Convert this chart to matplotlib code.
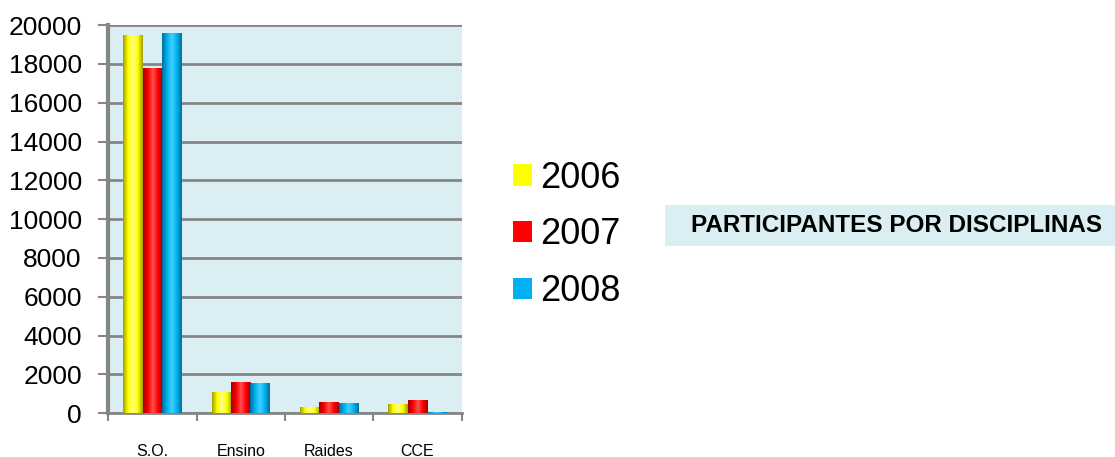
import numpy as np
import matplotlib.pyplot as plt
from matplotlib.patches import Rectangle
from matplotlib.colors import LinearSegmentedColormap

plt.rcParams['font.family'] = ['Liberation Sans', 'DejaVu Sans']

# Data
categories = ['S.O.', 'Ensino', 'Raides', 'CCE']
years = ['2006', '2007', '2008']
v2006 = [19500, 1100, 300, 450]
v2007 = [17800, 1600, 570, 670]
v2008 = [19600, 1550, 520, 60]
colors = ['#FFFF00', '#FF0000', '#00B0F0']
darks = ['#A0A000', '#A00000', '#00709A']
lights = ['#FFFF80', '#FF5050', '#40D0FF']

fig = plt.figure(figsize=(11.15, 4.57), dpi=100)
ax = fig.add_axes([0.097, 0.096, 0.317, 0.849])
ax.set_facecolor('#DAEEF3')

x = np.arange(len(categories)) + 0.5
w = 0.22
series = [v2006, v2007, v2008]
grad = np.linspace(0, 1, 64).reshape(1, -1)
for i, vals in enumerate(series):
    bars = ax.bar(x + (i - 1) * w, vals, w, color=colors[i], edgecolor='none',
                  label=years[i], zorder=3)
    # cylinder-like shading
    cmap = LinearSegmentedColormap.from_list(
        'c%d' % i, [darks[i], colors[i], lights[i], colors[i], darks[i]])
    for b in bars:
        x0, y0 = b.get_x(), b.get_y()
        im = ax.imshow(grad, cmap=cmap, aspect='auto', zorder=4,
                       extent=[x0, x0 + b.get_width(), y0, y0 + b.get_height()])
        im.set_clip_path(b)

ax.set_xlim(0, len(categories))
ax.set_ylim(0, 20000)
ax.set_yticks(np.arange(0, 20001, 2000))
ax.yaxis.grid(True, color='#868686', linewidth=2, zorder=0)
ax.set_axisbelow(True)
ax.set_xticks(x)
ax.set_xticklabels(categories, fontsize=11.5)
ax.set_xticks(np.arange(0, len(categories) + 1), minor=True)
ax.tick_params(axis='x', which='major', length=0, pad=22)
ax.tick_params(axis='x', which='minor', length=6, color='#868686', width=1.5)
ax.tick_params(axis='y', labelsize=19, length=7, color='#868686', width=1.5, pad=12)
for s in ['top', 'right']:
    ax.spines[s].set_visible(False)
ax.spines['left'].set_color('#868686')
ax.spines['left'].set_linewidth(3)
ax.spines['bottom'].set_color('#868686')
ax.spines['bottom'].set_linewidth(2)

leg = fig.legend(loc='center left', bbox_to_anchor=(0.444, 0.486), frameon=False,
                 fontsize=26, handlelength=0.53, handleheight=0.53, borderpad=0,
                 handletextpad=0.22, labelspacing=0.6)

fig.patches.append(Rectangle((0.596, 0.462), 0.404, 0.09, transform=fig.transFigure,
                             facecolor='#DAEEF3', edgecolor='none'))
fig.text(0.804, 0.507, 'PARTICIPANTES POR DISCIPLINAS', ha='center', va='center',
         fontsize=17.5, fontweight='bold')

fig.savefig('out.png', dpi=100)
